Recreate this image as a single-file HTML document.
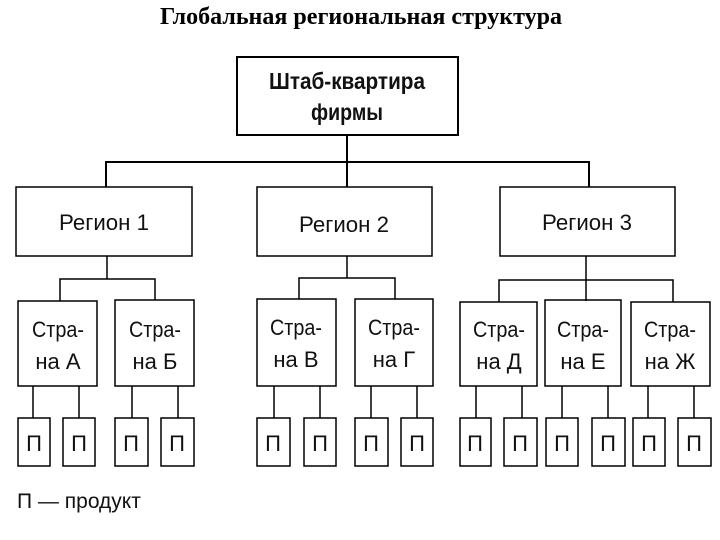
<!DOCTYPE html>
<html><head><meta charset="utf-8"><style>
html,body{margin:0;padding:0;background:#fff;width:720px;height:540px;overflow:hidden}
svg{display:block}
.t{font-family:"Liberation Sans","DejaVu Sans",sans-serif;fill:#111}
</style></head><body>
<svg width="720" height="540" viewBox="0 0 720 540" xmlns="http://www.w3.org/2000/svg">
<text x="361" y="24" text-anchor="middle" font-family="Liberation Serif,serif" font-weight="bold" font-size="24" fill="#000" textLength="402" lengthAdjust="spacingAndGlyphs">Глобальная региональная структура</text>
<g fill="none" stroke="#000" stroke-width="2">
<rect x="237" y="57" width="221" height="78"/>
<rect x="16" y="187" width="176" height="69" stroke-width="1.5"/>
<rect x="257" y="187" width="175" height="69" stroke-width="1.5"/>
<rect x="500" y="187" width="175" height="69" stroke-width="1.5"/>
<path d="M347 135V187M106 187V162H589V187"/>
<g stroke-width="1.5">
<path d="M107 256V279M60 301V279H155V300"/>
<path d="M347 256V278M299 299V278H395V299"/>
<path d="M586 256V301M499 302V280H673V302"/>
<rect x="18" y="301" width="79" height="85"/>
<rect x="115" y="300" width="79" height="86"/>
<rect x="257" y="299" width="79" height="87"/>
<rect x="355" y="299" width="78" height="87"/>
<rect x="460" y="302" width="77" height="84"/>
<rect x="545" y="300" width="76" height="86"/>
<rect x="631" y="302" width="79" height="84"/>
<path d="M33 386V418M79 386V418M132 386V418M178 386V418M274 386V418M320 386V418M371 386V418M417 386V418M476 386V418M522 386V418M562 386V418M608 386V418M648 386V418M694 386V418"/>
<rect x="18" y="418" width="32" height="48"/><rect x="63" y="418" width="32" height="48"/>
<rect x="115" y="418" width="33" height="48"/><rect x="161" y="418" width="33" height="48"/>
<rect x="257" y="418" width="33" height="48"/><rect x="304" y="418" width="32" height="48"/>
<rect x="355" y="418" width="33" height="48"/><rect x="401" y="418" width="32" height="48"/>
<rect x="460" y="418" width="31" height="48"/><rect x="504" y="418" width="33" height="48"/>
<rect x="546" y="418" width="32" height="48"/><rect x="592" y="418" width="33" height="48"/>
<rect x="633" y="418" width="32" height="48"/><rect x="678" y="418" width="33" height="48"/>
</g></g>
<g class="t" text-anchor="middle">
<text x="347" y="89" font-size="23" font-weight="bold" textLength="156" lengthAdjust="spacingAndGlyphs">Штаб-квартира</text>
<text x="347" y="120" font-size="23" font-weight="bold" textLength="72" lengthAdjust="spacingAndGlyphs">фирмы</text>
<text x="104" y="230" font-size="22" textLength="90" lengthAdjust="spacingAndGlyphs">Регион  1</text>
<text x="344" y="232" font-size="22" textLength="90" lengthAdjust="spacingAndGlyphs">Регион  2</text>
<text x="587" y="230" font-size="22" textLength="90" lengthAdjust="spacingAndGlyphs">Регион  3</text>
<g font-size="22">
<text x="58" y="337" textLength="52" lengthAdjust="spacingAndGlyphs">Стра-</text><text x="58" y="369">на А</text>
<text x="155" y="337" textLength="52" lengthAdjust="spacingAndGlyphs">Стра-</text><text x="155" y="369">на Б</text>
<text x="296" y="335" textLength="52" lengthAdjust="spacingAndGlyphs">Стра-</text><text x="296" y="367">на В</text>
<text x="394" y="335" textLength="52" lengthAdjust="spacingAndGlyphs">Стра-</text><text x="394" y="367">на Г</text>
<text x="499" y="337" textLength="52" lengthAdjust="spacingAndGlyphs">Стра-</text><text x="499" y="369">на Д</text>
<text x="583" y="337" textLength="52" lengthAdjust="spacingAndGlyphs">Стра-</text><text x="583" y="369">на Е</text>
<text x="670" y="337" textLength="52" lengthAdjust="spacingAndGlyphs">Стра-</text><text x="670" y="369">на Ж</text>
</g>
<g font-size="22">
<text x="34" y="451">П</text><text x="79" y="451">П</text><text x="131" y="451">П</text><text x="177" y="451">П</text>
<text x="273" y="451">П</text><text x="320" y="451">П</text><text x="371" y="451">П</text><text x="417" y="451">П</text>
<text x="475" y="451">П</text><text x="520" y="451">П</text><text x="562" y="451">П</text><text x="608" y="451">П</text>
<text x="649" y="451">П</text><text x="694" y="451">П</text>
</g>
</g>
<text class="t" x="17" y="508" font-size="21">П  —  продукт</text>
</svg>
</body></html>
